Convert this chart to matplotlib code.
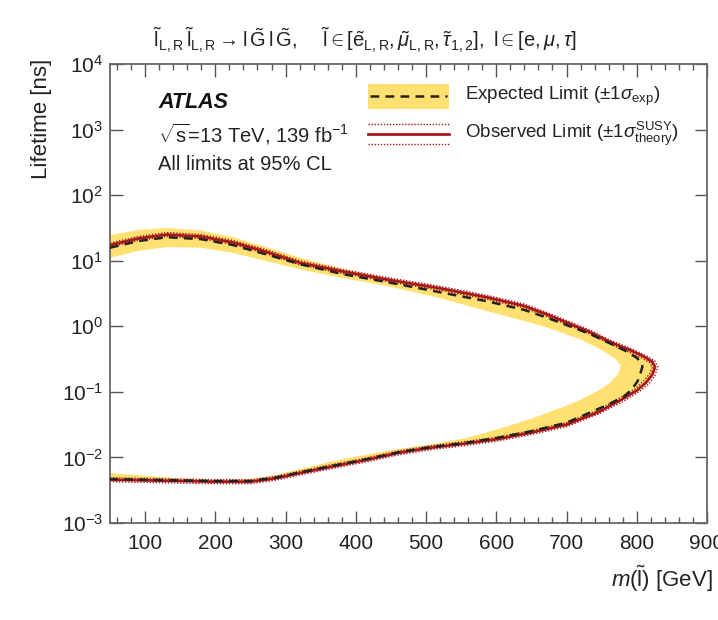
import numpy as np
import matplotlib.pyplot as plt
from matplotlib.patches import Rectangle
from matplotlib.lines import Line2D
from matplotlib.ticker import LogLocator, NullLocator, MultipleLocator, LogFormatterSciNotation

plt.rcParams["font.family"] = ["Liberation Sans", "DejaVu Sans"]
plt.rcParams["mathtext.fontset"] = "custom"
plt.rcParams["mathtext.rm"] = "Liberation Sans"
plt.rcParams["mathtext.it"] = "Liberation Sans:italic"
plt.rcParams["mathtext.bf"] = "Liberation Sans:bold"

# contours in (slepton mass [GeV], log10 lifetime [ns]),
# running from the left edge along the upper branch, round the nose, back along the lower branch
obs_m = [50, 90, 131, 180, 225, 275, 320, 380, 447, 520, 588, 640, 670, 700, 734, 762, 790, 810, 822, 826,
         822, 813, 800, 778, 745, 700, 650, 602, 555, 508, 461, 414, 366, 320, 285, 250, 200, 150, 100, 50]
obs_logtau = [1.24, 1.34, 1.40, 1.37, 1.28, 1.13, 0.97, 0.84, 0.71, 0.58, 0.44, 0.31, 0.19, 0.06, -0.09, -0.24,
              -0.36, -0.46, -0.54, -0.62, -0.74, -0.86, -0.98, -1.12, -1.31, -1.50, -1.62, -1.72, -1.79, -1.85,
              -1.93, -2.04, -2.14, -2.24, -2.32, -2.37, -2.37, -2.36, -2.35, -2.34]

th_up_m = [50, 90, 131, 180, 225, 275, 320, 380, 447, 520, 588, 640, 670, 700, 734, 762, 790, 812, 826, 830,
           826, 817, 803, 780, 745, 700, 650, 602, 555, 508, 461, 414, 366, 320, 285, 250, 200, 150, 100, 50]
th_up_logtau = [1.27, 1.37, 1.43, 1.40, 1.31, 1.16, 1.00, 0.87, 0.74, 0.61, 0.47, 0.34, 0.22, 0.09, -0.06, -0.21,
                -0.33, -0.44, -0.53, -0.62, -0.75, -0.88, -1.00, -1.15, -1.34, -1.53, -1.65, -1.75, -1.82, -1.88,
                -1.96, -2.07, -2.17, -2.27, -2.35, -2.40, -2.40, -2.39, -2.38, -2.37]

th_dn_m = [50, 90, 131, 180, 225, 275, 320, 380, 447, 520, 588, 640, 670, 700, 734, 762, 788, 806, 818, 822,
           818, 809, 797, 776, 745, 700, 650, 602, 555, 508, 461, 414, 366, 320, 285, 250, 200, 150, 100, 50]
th_dn_logtau = [1.21, 1.31, 1.37, 1.34, 1.25, 1.10, 0.94, 0.81, 0.68, 0.55, 0.41, 0.28, 0.16, 0.03, -0.12, -0.27,
                -0.39, -0.48, -0.55, -0.62, -0.73, -0.84, -0.96, -1.09, -1.28, -1.47, -1.59, -1.69, -1.76, -1.82,
                -1.90, -2.01, -2.11, -2.21, -2.29, -2.34, -2.34, -2.33, -2.32, -2.31]

exp_m = [50, 90, 131, 180, 225, 275, 320, 380, 447, 520, 588, 640, 670, 700, 734, 762, 785, 800, 807, 808,
         805, 801, 793, 782, 758, 726, 700, 650, 602, 555, 508, 461, 414, 366, 320, 285, 250, 200, 150, 100, 50]
exp_logtau = [1.20, 1.30, 1.36, 1.33, 1.24, 1.09, 0.95, 0.80, 0.67, 0.52, 0.38, 0.25, 0.14, 0.02, -0.12, -0.26,
              -0.38, -0.48, -0.56, -0.62, -0.72, -0.84, -0.96, -1.07, -1.20, -1.35, -1.47, -1.60, -1.70, -1.78,
              -1.84, -1.92, -2.03, -2.13, -2.23, -2.31, -2.36, -2.36, -2.35, -2.34, -2.33]

# +/-1 sigma expected band: outer and inner edges
band_out_m = [50, 90, 131, 180, 225, 275, 320, 380, 447, 520, 588, 640, 670, 700, 734, 762, 790, 810, 822, 827,
              823, 814, 801, 779, 745, 700, 650, 602, 555, 508, 461, 414, 366, 320, 285, 250, 200, 150, 100, 50]
band_out_logtau = [1.39, 1.47, 1.50, 1.46, 1.36, 1.20, 1.05, 0.88, 0.73, 0.60, 0.46, 0.32, 0.21, 0.07, -0.08,
                   -0.22, -0.35, -0.45, -0.53, -0.62, -0.74, -0.86, -0.98, -1.12, -1.32, -1.51, -1.63, -1.73,
                   -1.80, -1.86, -1.94, -2.05, -2.15, -2.25, -2.33, -2.38, -2.38, -2.37, -2.36, -2.36]
band_in_m = [50, 90, 131, 180, 225, 275, 320, 380, 447, 520, 588, 630, 670, 720, 750, 770, 777,
             774, 762, 745, 720, 700, 650, 602, 555, 508, 461, 414, 366, 320, 285, 250, 200, 150, 100, 50]
band_in_logtau = [1.045, 1.15, 1.21, 1.20, 1.12, 0.99, 0.87, 0.74, 0.61, 0.43, 0.23, 0.11, -0.01, -0.20, -0.36,
                  -0.50, -0.60, -0.72, -0.86, -0.98, -1.12, -1.21, -1.41, -1.57, -1.71, -1.80, -1.87, -1.96,
                  -2.06, -2.18, -2.27, -2.33, -2.35, -2.32, -2.28, -2.24]

yellow = "#ffe070"
red = "#a8181c"

fig = plt.figure(figsize=(7.18, 6.2), dpi=100)
ax = fig.add_axes([0.1532, 0.1565, 0.8315, 0.740])

band_x = np.concatenate([band_out_m, band_in_m[::-1]])
band_y = np.concatenate([band_out_logtau, band_in_logtau[::-1]])
ax.fill(band_x, 10.0 ** band_y, color=yellow, lw=0, zorder=1)

ax.plot(th_up_m, 10.0 ** np.array(th_up_logtau), color=red, lw=1.0, ls=(0, (1, 1.2)), zorder=2)
ax.plot(th_dn_m, 10.0 ** np.array(th_dn_logtau), color=red, lw=1.0, ls=(0, (1, 1.2)), zorder=2)
ax.plot(obs_m, 10.0 ** np.array(obs_logtau), color=red, lw=2.0, zorder=3)
ax.plot(exp_m, 10.0 ** np.array(exp_logtau), color="#222222", lw=1.8, ls=(0, (3.5, 2.5)), zorder=4)

ax.set_yscale("log")
ax.set_xlim(50, 900)
ax.set_ylim(1e-3, 1e4)
ax.yaxis.set_major_locator(LogLocator(base=10, numticks=20))
ax.yaxis.set_major_formatter(LogFormatterSciNotation())
ax.yaxis.set_minor_locator(NullLocator())
ax.xaxis.set_major_locator(MultipleLocator(100))
ax.xaxis.set_minor_locator(MultipleLocator(20))

ax.tick_params(which="both", direction="in", top=True, right=True, color="#555555", labelsize=15,
               labelcolor="#222222")
ax.tick_params(which="major", length=9, width=1.0)
ax.tick_params(which="minor", length=4.5, width=1.0)
ax.tick_params(axis="x", pad=8)
ax.tick_params(axis="y", pad=5)
for s in ax.spines.values():
    s.set_color("#666666")
    s.set_linewidth(1.3)

# axis titles, ROOT style (aligned to the ends of the axes)
fig.text(0.058, 0.906, "Lifetime [ns]", rotation=90, ha="center", va="top", fontsize=16, color="#222222")
fig.text(0.993, 0.066, r"$m(\tilde{\mathrm{l}})$ [GeV]", ha="right", va="center", fontsize=16, color="#222222")

fig.text(0.508, 0.935,
         r"$\tilde{\mathrm{l}}_{\mathrm{L,R}}\,\tilde{\mathrm{l}}_{\mathrm{L,R}}\rightarrow\mathrm{l}\,\tilde{\mathrm{G}}\,"
         r"\mathrm{l}\,\tilde{\mathrm{G}},\quad\ \tilde{\mathrm{l}}\in[\tilde{\mathrm{e}}_{\mathrm{L,R}},"
         r"\tilde{\mu}_{\mathrm{L,R}},\tilde{\tau}_{1,2}],\ \mathrm{l}\in[\mathrm{e},\mu,\tau]$",
         ha="center", va="center", fontsize=14.5, color="#222222")

fig.text(0.22, 0.834, "ATLAS", fontsize=15.5, fontweight="bold", fontstyle="italic", va="center",
         color="#111111")
fig.text(0.22, 0.784, r"$\sqrt{\mathrm{s}}$=13 TeV, 139 fb$^{-1}$", fontsize=14.5, va="center", color="#222222")
fig.text(0.22, 0.734, "All limits at 95% CL", fontsize=14.5, va="center", color="#222222")

# legend, drawn by hand
fig.patches.append(Rectangle((0.5125, 0.8242), 0.1128, 0.0403, transform=fig.transFigure,
                             facecolor=yellow, edgecolor="none"))
fig.lines.append(Line2D([0.515, 0.623], [0.8452, 0.8452], transform=fig.transFigure,
                        color="#222222", lw=1.8, ls=(0, (3.5, 2.5))))
fig.lines.append(Line2D([0.5125, 0.6253], [0.7839, 0.7839], transform=fig.transFigure, color=red, lw=2.0))
for yy in (0.800, 0.768):
    fig.lines.append(Line2D([0.5125, 0.6253], [yy, yy], transform=fig.transFigure, color=red, lw=1.0,
                            ls=(0, (1, 1.2))))
fig.text(0.6476, 0.8452, r"Expected Limit ($\pm1\sigma_{\mathrm{exp}}$)", fontsize=13.5, va="center",
         color="#222222")
fig.text(0.6476, 0.7839, r"Observed Limit ($\pm1\sigma^{\mathrm{SUSY}}_{\mathrm{theory}}$)", fontsize=13.5,
         va="center", color="#222222")

fig.savefig("out.png", dpi=100)
